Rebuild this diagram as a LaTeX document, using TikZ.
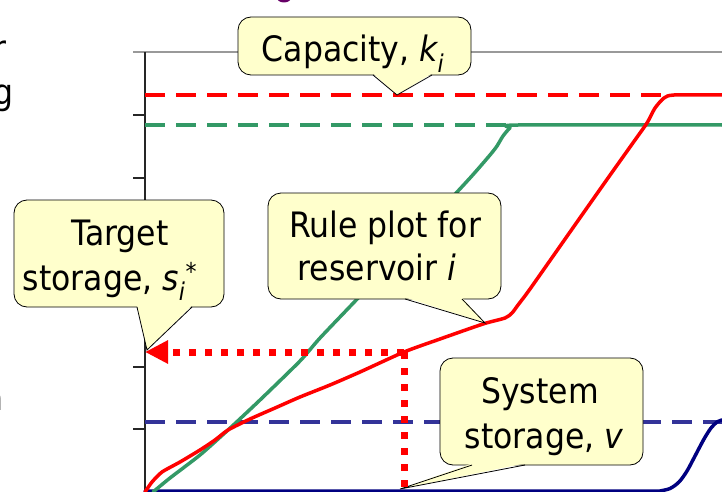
\documentclass[tikz,border=0pt]{standalone}
\usepackage{fontspec}
\newfontfamily\cf{DejaVu Sans Condensed}
\usetikzlibrary{arrows.meta}
\definecolor{cfill}{HTML}{FFFFCC}
\definecolor{cred}{HTML}{FF0000}
\definecolor{cgreen}{HTML}{339966}
\definecolor{cnavy}{HTML}{000080}
\definecolor{cdblue}{HTML}{333399}
\definecolor{cpurple}{HTML}{660066}
\newcommand\mycallout[8]{%
  \draw[callout] (#1,#2) rectangle (#3,#4);
  \fill[cfill] (#5,#4-1.6) -- (#7,#8) -- (#6,#4-1.6) -- cycle;
  \draw[ptr] (#5,#4) -- (#7,#8) -- (#6,#4);
}
\begin{document}
\begin{tikzpicture}[x=1pt,y=-1pt,
  lbl/.style={font=\cf\fontsize{35}{44}\selectfont, inner sep=0pt, anchor=base},
  callout/.style={draw=black, line width=0.8pt, fill=cfill, rounded corners=13pt},
  ptr/.style={draw=black, line width=0.8pt, line join=miter},
  curve/.style={line width=3.5pt, line join=round, line cap=round},
  dashln/.style={line width=3.2pt, dash pattern=on 20pt off 11pt},
  reddot/.style={cred, line width=7pt, dash pattern=on 7pt off 9pt},
]
\useasboundingbox (0,0) rectangle (722,492);
\clip (0,0) rectangle (722,492);
% fragments at the edges
\fill[cpurple] (284,-3) ellipse (7.5 and 5.5);
\node[lbl, anchor=base east] (fr) at (7,61) {r};
\node[lbl, anchor=base east] (fg) at (14,105) {g};
\node[lbl, anchor=base east] (fn) at (4,410) {n};
% axes
\draw[gray!80, line width=1.3pt] (133,52) -- (722,52);
\draw[black!85, line width=1.4pt] (145,52) -- (145,492);
\foreach \ty in {115,178,240,303,367,429}
  \draw[black!85, line width=1.2pt] (133,\ty) -- (145,\ty);
% dashed reference lines
\draw[dashln, cred] (145,95) -- (670,95);
\draw[dashln, cgreen] (145,125) -- (515,125);
\draw[dashln, cdblue] (145,422) -- (722,422);
% curves
\draw[curve, cnavy] (145,491) -- (660,491) plot[smooth, tension=0.5] coordinates {(660,491) (670,488.5) (679,482) (687,471) (695,456) (704,439) (711,428) (717,422) (722,420)};
\draw[curve, cgreen] plot[smooth, tension=0.4] coordinates {(153,492) (170,478) (200,455) (228,430) (260,400) (300,361) (320,338) (360,296) (420,232) (470,178) (490,155) (497,146) (503,136) (510,128) (518,125) (722,125)};
\draw[curve, cred] plot[smooth, tension=0.4] coordinates {(145,492) (152,482) (162,472) (180,462) (200,450) (215,440) (228,430) (250,419) (275,408) (300,397) (330,385) (360,372) (404,352) (440,339) (483,324) (505,318) (512,313) (518,305) (530,289) (570,232) (608,178) (635,140) (647,123) (655,108) (664,98) (674,95) (722,95)};
% callouts
\mycallout{238}{17}{471}{75}{373}{432}{397}{95}
\node[lbl] (cap) at (353,62) {Capacity, {\itshape k}\textsubscript{\itshape i}};
\mycallout{14}{200}{224}{307}{137}{192}{147}{350}
\node[lbl] (tgt1) at (120,245) {Target};
\node[lbl] (tgt2) at (110,290) {storage, {\itshape s}\textsubscript{\itshape i}\textsuperscript{*}};
\mycallout{268}{193}{501}{299}{405}{462}{485}{323}
\node[lbl] (rule1) at (385,237) {Rule plot for};
\node[lbl] (rule2) at (377,280) {reservoir {\itshape i}};
\mycallout{440}{358}{643}{465}{472}{525}{400}{489}
\node[lbl] (sys1) at (540,403) {System};
\node[lbl] (sys2) at (544,448) {storage, {\itshape v}};
% target projection
\coordinate (op) at (404,352);
\coordinate (sx) at (145,352);
\coordinate (ox) at (404,492);
\draw[reddot, -{Triangle[length=23pt,width=22pt]}] (op) -- (sx);
\draw[reddot] (op) -- (ox);
\end{tikzpicture}
\end{document}
